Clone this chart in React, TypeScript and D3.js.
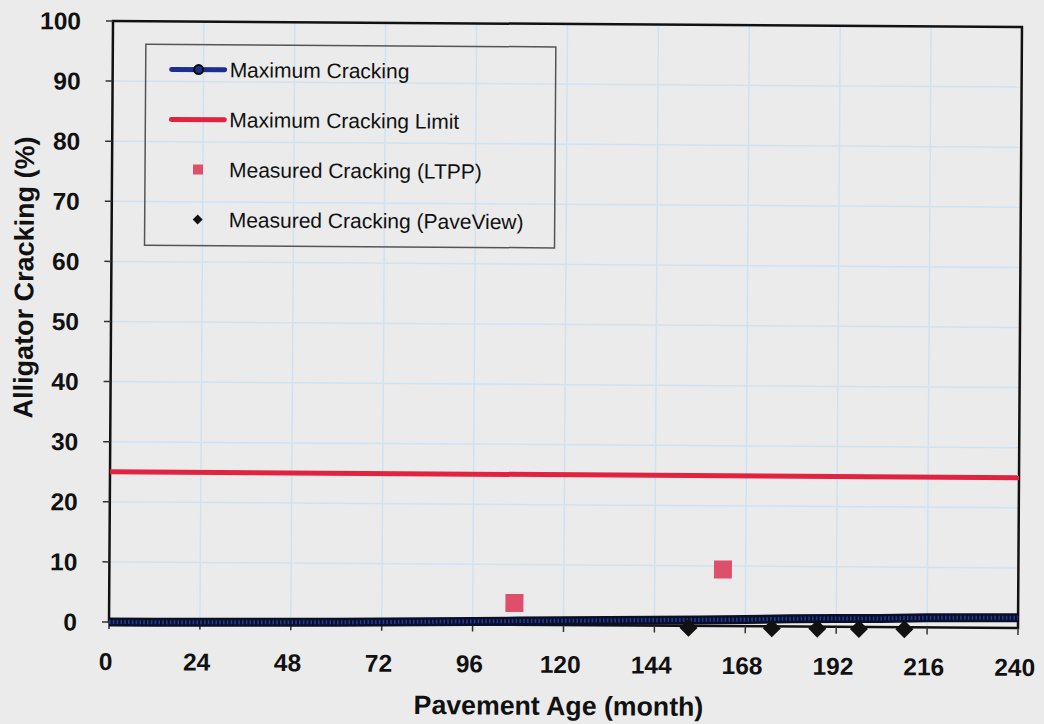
import React from "react";
import * as d3 from "d3";

// Pavement age (months) and predicted maximum alligator cracking (%)
const predictedMonths = [0, 12, 24, 36, 48, 60, 72, 84, 96, 108, 120, 132, 144, 156, 168, 180, 192, 204, 216, 228, 240];
const predictedCracking = [0.0, 0.0, 0.05, 0.1, 0.15, 0.2, 0.3, 0.4, 0.5, 0.6, 0.7, 0.8, 0.9, 1.0, 1.1, 1.3, 1.4, 1.45, 1.6, 1.65, 1.7];

// Design limit for alligator cracking (%)
const limitMonths = [0, 240];
const limitCracking = [25, 25];

// Field measurements
const ltppMonths = [107, 162];
const ltppCracking = [3.6, 9.4];
const paveViewMonths = [153, 175, 187, 198, 210];
const paveViewCracking = [0, 0, 0, 0, 0];

// Axis ticks
const xTicks = [0, 24, 48, 72, 96, 120, 144, 168, 192, 216, 240];
const yTicks = [0, 10, 20, 30, 40, 50, 60, 70, 80, 90, 100];

const legendLabels = [
  "Maximum Cracking",
  "Maximum Cracking Limit",
  "Measured Cracking (LTPP)",
  "Measured Cracking (PaveView)",
];

const W = 1044;
const H = 724;
const left = 111;
const right = 1020;
const top = 24;
const bottom = 625;
const FONT = "Arial, 'Liberation Sans', sans-serif";

export default function App() {
  const x = d3.scaleLinear().domain([0, 240]).range([left, right]);
  const y = d3.scaleLinear().domain([0, 100]).range([bottom, top]);

  const line = d3
    .line<[number, number]>()
    .x((d) => x(d[0]))
    .y((d) => y(d[1]));

  const predicted = line(predictedMonths.map((m, i) => [m, predictedCracking[i]]))!;
  const limit = line(limitMonths.map((m, i) => [m, limitCracking[i]]))!;

  const grid = "#cfe2f1";
  const bg = "#ebebeb";

  const lx = 144, ly = 47, lw = 410, lh = 201;
  const rowY = [72, 122, 172, 222];

  return (
    <svg
      width={W}
      height={H}
      style={{ position: "absolute", left: 0, top: 0, background: bg }}
      fontFamily={FONT}
    >
      <rect width={W} height={H} fill={bg} />
      <g transform={`rotate(0.38, ${(left + right) / 2}, ${(top + bottom) / 2})`}>
        {/* gridlines */}
        {yTicks.slice(1, -1).map((t) => (
          <line key={"gy" + t} x1={left} x2={right} y1={y(t)} y2={y(t)} stroke={grid} strokeWidth={1.5} />
        ))}
        {xTicks.slice(1, -1).map((t) => (
          <line key={"gx" + t} x1={x(t)} x2={x(t)} y1={top} y2={bottom} stroke={grid} strokeWidth={1.5} />
        ))}

        {/* plot frame */}
        <rect x={left} y={top} width={right - left} height={bottom - top} fill="none" stroke="#111" strokeWidth={2.5} />

        {/* ticks */}
        {yTicks.map((t) => (
          <line key={"ty" + t} x1={left - 7} x2={left} y1={y(t)} y2={y(t)} stroke="#333" strokeWidth={1.5} />
        ))}
        {xTicks.map((t) => (
          <line key={"tx" + t} x1={x(t)} x2={x(t)} y1={bottom} y2={bottom + 7} stroke="#333" strokeWidth={1.5} />
        ))}

        {/* tick labels */}
        {yTicks.map((t) => (
          <text key={"ly" + t} x={79} y={y(t)} dy="0.36em" textAnchor="end" fontSize={24.5} fontWeight="bold" fill="#111">
            {t}
          </text>
        ))}
        {xTicks.map((t) => (
          <text key={"lx" + t} x={x(t) - 3} y={673} textAnchor="middle" fontSize={24.5} fontWeight="bold" fill="#111">
            {t}
          </text>
        ))}

        {/* axis titles */}
        <text x={561} y={715} textAnchor="middle" fontSize={26.7} fontWeight="bold" fill="#111">
          Pavement Age (month)
        </text>
        <text
          transform={`translate(33, 281) rotate(-90)`}
          textAnchor="middle"
          fontSize={27}
          fontWeight="bold"
          fill="#111"
        >
          Alligator Cracking (%)
        </text>

        {/* limit line */}
        <path d={limit} fill="none" stroke="#e2233f" strokeWidth={5} />

        {/* predicted cracking: dense circle markers */}
        <path d={predicted} fill="none" stroke="#0b0f26" strokeWidth={9} />
        <path d={predicted} fill="none" stroke="#1f3a9c" strokeWidth={4} strokeDasharray="1.6 2.2" />

        {/* LTPP measurements */}
        {ltppMonths.map((m, i) => (
          <rect
            key={"lt" + m}
            x={x(m) - 9}
            y={y(ltppCracking[i]) - 9}
            width={18}
            height={18}
            fill="#de4f6c"
          />
        ))}

        {/* PaveView measurements */}
        {paveViewMonths.map((m, i) => {
          const cx = x(m);
          const cy = y(paveViewCracking[i]) + 2;
          const r = 9;
          return (
            <path
              key={"pv" + m}
              d={`M${cx},${cy - r}L${cx + r},${cy}L${cx},${cy + r}L${cx - r},${cy}Z`}
              fill="#111"
            />
          );
        })}

        {/* legend */}
        <rect x={lx} y={ly} width={lw} height={lh} fill="none" stroke="#555" strokeWidth={1.5} />
        <line x1={170} x2={223} y1={rowY[0]} y2={rowY[0]} stroke="#1c2f8f" strokeWidth={5} strokeLinecap="round" />
        <circle cx={197} cy={rowY[0]} r={4.5} fill="#1c2f8f" stroke="#0a0a0a" strokeWidth={2} />
        <line x1={170} x2={223} y1={rowY[1]} y2={rowY[1]} stroke="#e2233f" strokeWidth={5} strokeLinecap="round" />
        <rect x={192} y={rowY[2] - 5} width={10} height={10} fill="#de4f6c" />
        <path d={`M197,${rowY[3] - 5}L202,${rowY[3]}L197,${rowY[3] + 5}L192,${rowY[3]}Z`} fill="#111" />
        {legendLabels.map((l, i) => (
          <text key={l} x={228} y={rowY[i]} dy="0.36em" fontSize={21} fill="#111">
            {l}
          </text>
        ))}
      </g>
    </svg>
  );
}
